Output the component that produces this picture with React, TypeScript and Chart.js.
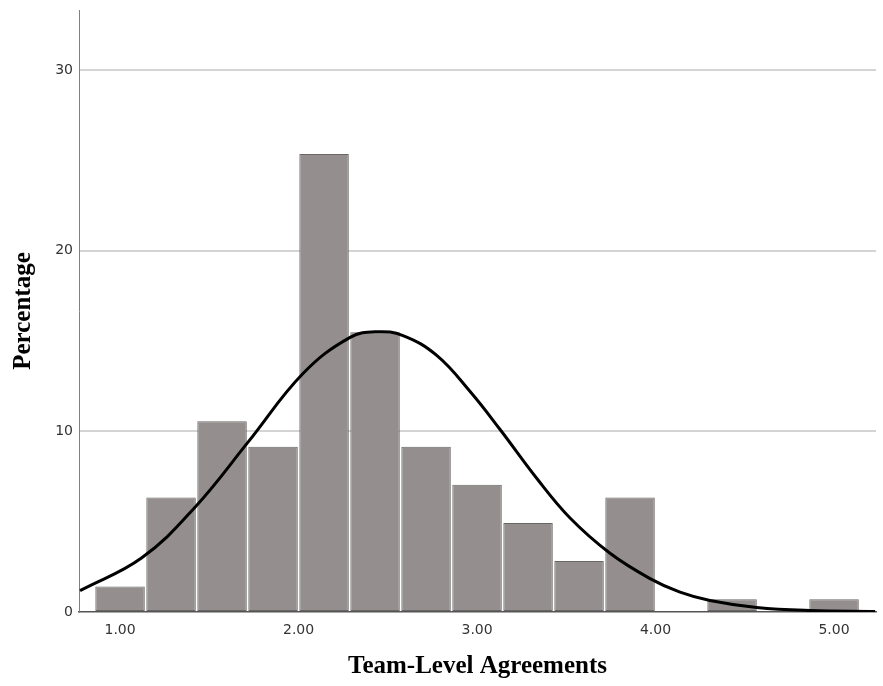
import React, { useEffect, useRef } from "react";
import { Chart, registerables } from "chart.js";

Chart.register(...registerables);

// Histogram bins (centres of bins, width 2/7) and percentages
const binCenters = [1.0, 1.2857, 1.5714, 1.8571, 2.1429, 2.4286, 2.7143, 3.0, 3.2857, 3.5714, 3.8571, 4.1429, 4.4286, 4.7143, 5.0];
const binPercents = [1.41, 6.34, 10.56, 9.15, 25.35, 15.49, 9.15, 7.04, 4.93, 2.82, 6.34, 0, 0.7, 0, 0.7];

// Normal curve points
const curveX = [0.776, 1.122, 1.42, 1.717, 2.025, 2.289, 2.438, 2.585, 2.774, 2.961, 3.129, 3.334, 3.521, 3.745, 3.969, 4.137, 4.305, 4.567, 4.866, 5.23];
const curveY = [1.18, 3.0, 5.8, 9.4, 13.2, 15.2, 15.51, 15.3, 14.2, 12.2, 10.1, 7.4, 5.2, 3.25, 1.85, 1.1, 0.64, 0.25, 0.08, 0.03];

const xTicks = [1, 2, 3, 4, 5];
const yTicks = [0, 10, 20, 30];

const xTitle = "Team-Level Agreements";
const yTitle = "Percentage";

export default function App() {
  const canvasRef = useRef<HTMLCanvasElement | null>(null);

  useEffect(() => {
    document.body.style.margin = "0";
    const canvas = canvasRef.current;
    if (!canvas) return;

    const chart = new Chart(canvas, {
      type: "bar",
      data: {
        datasets: [
          {
            type: "line",
            data: curveX.map((x, i) => ({ x, y: curveY[i] })),
            borderColor: "#000000",
            borderWidth: 3,
            pointRadius: 0,
            fill: false,
            tension: 0.4,
            order: 0,
          } as any,
          {
            type: "bar",
            data: binCenters.map((x, i) => ({ x, y: binPercents[i] })),
            backgroundColor: "#948f8e",
            borderColor: "#6a6665",
            borderWidth: 1,
            borderSkipped: false,
            barPercentage: 0.97,
            categoryPercentage: 1,
            order: 1,
          } as any,
        ],
      },
      options: {
        animation: false,
        responsive: true,
        maintainAspectRatio: false,
        layout: { padding: { top: 10, right: 7, left: 0, bottom: 0 } },
        plugins: {
          legend: { display: false },
          tooltip: { enabled: false },
        },
        scales: {
          x: {
            type: "linear",
            min: 0.77,
            max: 5.235,
            offset: false,
            afterBuildTicks: (scale: any) => {
              scale.ticks = xTicks.map((v) => ({ value: v }));
            },
            afterFit: (scale: any) => {
              scale.height = 74;
              scale.paddingLeft = 0;
              scale.paddingRight = 0;
            },
            grid: { display: false, drawTicks: false, offset: false },
            border: { display: true, color: "#555555", width: 1.5 },
            ticks: {
              padding: 10,
              color: "#333333",
              font: { family: "DejaVu Sans", size: 14 },
              callback: (v: any) => Number(v).toFixed(2),
            },
            title: {
              display: true,
              text: xTitle,
              color: "#000000",
              font: { family: "Liberation Serif", size: 25, weight: "bold" },
              padding: { top: 0, bottom: 4 },
            },
          },
          y: {
            type: "linear",
            min: 0,
            max: 33.32,
            afterBuildTicks: (scale: any) => {
              scale.ticks = yTicks.map((v) => ({ value: v }));
            },
            afterFit: (scale: any) => {
              scale.width = 79;
              scale.paddingTop = 0;
              scale.paddingBottom = 0;
            },
            grid: {
              drawTicks: false,
              color: (ctx: any) => (ctx.tick && ctx.tick.value === 0 ? "rgba(0,0,0,0)" : "#d4d4d4"),
              lineWidth: 2,
            },
            border: { display: true, color: "#808080", width: 1 },
            ticks: {
              padding: 6,
              color: "#333333",
              font: { family: "DejaVu Sans", size: 14 },
            },
            title: {
              display: true,
              text: yTitle,
              color: "#000000",
              font: { family: "Liberation Serif", size: 25, weight: "bold" },
              padding: { top: 9, bottom: 0 },
            },
          },
        },
      } as any,
    });

    return () => {
      chart.destroy();
    };
  }, []);

  return (
    <div style={{ position: "relative", width: "883px", height: "686px" }}>
      <canvas ref={canvasRef} />
    </div>
  );
}
